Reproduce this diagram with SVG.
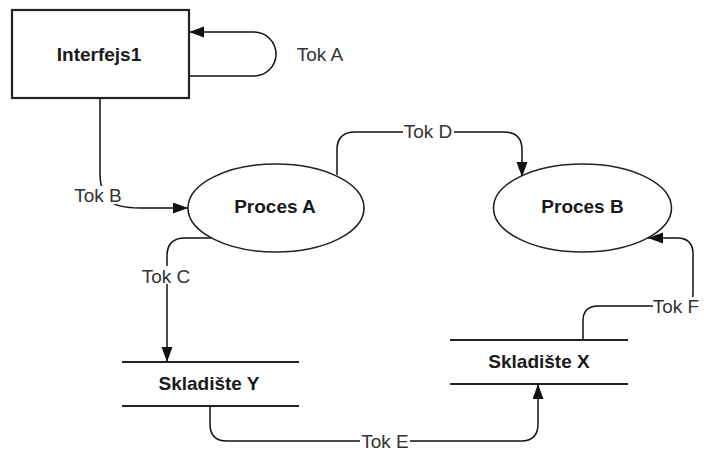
<svg xmlns="http://www.w3.org/2000/svg" width="704" height="456" viewBox="0 0 704 456">
  <defs>
    <marker id="arrow" markerUnits="userSpaceOnUse" markerWidth="16" markerHeight="12" refX="15" refY="5.5" orient="auto">
      <path d="M0,0 L15,5.5 L0,11 z" fill="#111"/>
    </marker>
    <style>
      .shape { fill: #fff; stroke: #222; stroke-width: 1.6; }
      .box { fill: #fff; stroke: #222; stroke-width: 2.2; }
      .store { stroke: #222; stroke-width: 2; fill: none; }
      .flow { fill: none; stroke: #111; stroke-width: 1.5; }
      .title { font-family: "Liberation Sans", Arial, sans-serif; font-size: 19px; font-weight: bold; fill: #1a1a1a; text-anchor: middle; }
      .lbl { font-family: "Liberation Sans", Arial, sans-serif; font-size: 19px; fill: #333; text-anchor: middle; }
      .bg { fill: #fff; }
    </style>
  </defs>
  <rect width="704" height="456" fill="#fff"/>

  <!-- data flows -->
  <g id="connectors">
    <g id="tok-a">
      <path class="flow" d="M189,76 L254,76 A22,22 0 0 0 254,32 L189,32" marker-end="url(#arrow)"/>
      <text class="lbl" x="320" y="61">Tok A</text>
    </g>
    <g id="tok-b">
      <path class="flow" d="M100,98 V172 C100,200 110,208 140,208 H188" marker-end="url(#arrow)"/>
      <rect class="bg" x="73" y="186" width="51" height="18"/>
      <text class="lbl" x="98" y="202">Tok B</text>
    </g>
    <g id="tok-c">
      <path class="flow" d="M213,238 H185 Q167,238 167,256 V362" marker-end="url(#arrow)"/>
      <rect class="bg" x="140" y="266" width="53" height="18"/>
      <text class="lbl" x="166" y="283">Tok C</text>
    </g>
    <g id="tok-d">
      <path class="flow" d="M337,175 V150 Q337,132 355,132 H504 Q522,132 522,150 V177" marker-end="url(#arrow)"/>
      <rect class="bg" x="403" y="122" width="51" height="18"/>
      <text class="lbl" x="428" y="138">Tok D</text>
    </g>
    <g id="tok-e">
      <path class="flow" d="M210,406 V424 Q210,441 227,441 H521 Q538,441 538,424 V384" marker-end="url(#arrow)"/>
      <rect class="bg" x="360" y="431" width="50" height="18"/>
      <text class="lbl" x="385" y="448">Tok E</text>
    </g>
    <g id="tok-f">
      <path class="flow" d="M583,340 V321 Q583,306 598,306 H680 Q693,306 693,293 V254 Q693,238 677,238 H648" marker-end="url(#arrow)"/>
      <rect class="bg" x="653" y="297" width="46" height="18"/>
      <text class="lbl" x="676" y="313">Tok F</text>
    </g>
  </g>

  <!-- external entity -->
  <g id="interfejs1">
    <rect class="box" x="12" y="10" width="177" height="88"/>
    <text class="title" x="99" y="61">Interfejs1</text>
  </g>

  <!-- processes -->
  <g id="proces-a">
    <ellipse class="shape" cx="276" cy="208" rx="88" ry="44"/>
    <text class="title" x="275" y="213">Proces A</text>
  </g>
  <g id="proces-b">
    <ellipse class="shape" cx="582.5" cy="208" rx="89" ry="44"/>
    <text class="title" x="582.5" y="213">Proces B</text>
  </g>

  <!-- data stores -->
  <g id="skladiste-y">
    <line class="store" x1="122" y1="362" x2="299" y2="362"/>
    <line class="store" x1="122" y1="406" x2="299" y2="406"/>
    <text class="title" x="209" y="390">Skladište Y</text>
  </g>
  <g id="skladiste-x">
    <line class="store" x1="450" y1="340" x2="628" y2="340"/>
    <line class="store" x1="450" y1="384" x2="628" y2="384"/>
    <text class="title" x="539" y="368">Skladište X</text>
  </g>
</svg>
